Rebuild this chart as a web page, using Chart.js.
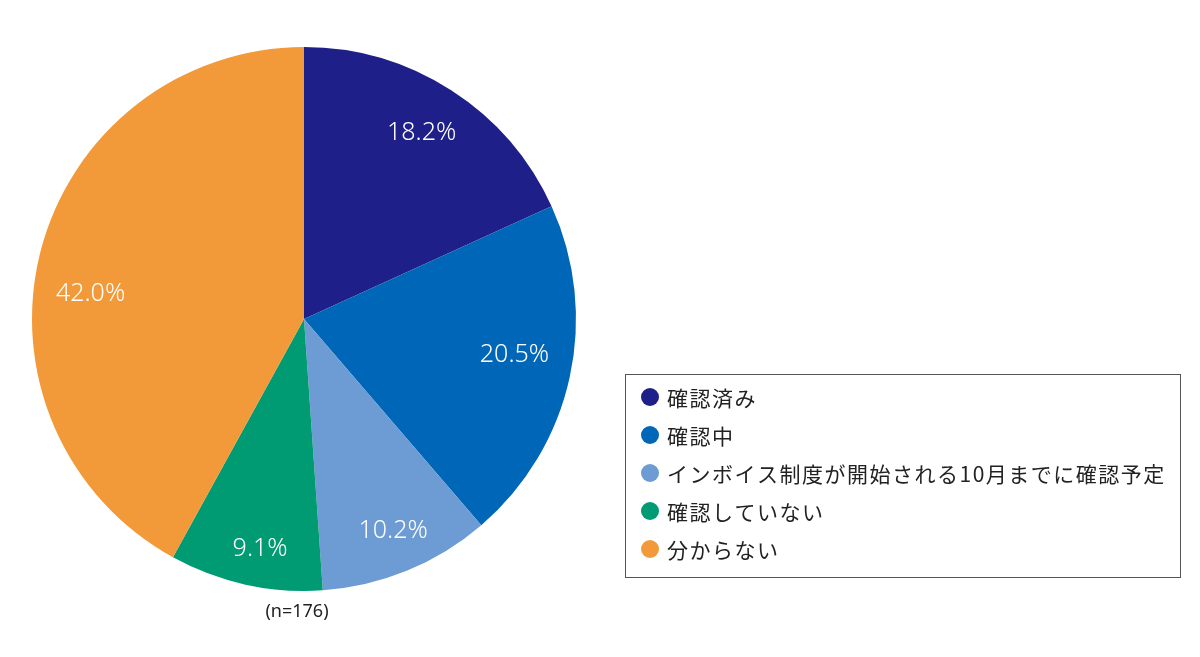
<html lang="ja">
<head>
    <meta charset="UTF-8"/>
    <title>インボイス確認状況</title>
    <script src="https://cdn.jsdelivr.net/npm/chart.js@4.4.0/dist/chart.umd.min.js"></script>
    <style>
        html, body { margin: 0; padding: 0; background: #ffffff; }
        #wrap { width: 1200px; height: 657px; position: relative; }
    </style>
</head>
<body>
<div id="wrap">
    <canvas id="myChart" width="1200" height="657"></canvas>
</div>
<script>
    const labels = ['確認済み', '確認中', 'インボイス制度が開始される10月までに確認予定', '確認していない', '分からない'];
    const shares = [18.2, 20.5, 10.2, 9.1, 42.0];
    const colors = ['#1e1f88', '#0066b8', '#6d9bd3', '#009a73', '#f29a39'];
    const sampleNote = '(n=176)';

    // label placement per slice: fraction of radius, and a small turn (degrees) off the mid angle
    const labelRadius = [0.81, 0.785, 0.845, 0.86, 0.79];
    const labelTurn = [-0.5, -2.7, -0.5, -1.6, -7.7];

    // percentage labels inside each slice
    const sliceLabels = {
        id: 'sliceLabels',
        afterDatasetsDraw(chart) {
            const ctx = chart.ctx;
            const meta = chart.getDatasetMeta(0);
            ctx.save();
            ctx.fillStyle = '#ffffff';
            ctx.font = '300 25px "Noto Sans", "Noto Sans CJK JP", sans-serif';
            ctx.textAlign = 'center';
            ctx.textBaseline = 'middle';
            meta.data.forEach((arc, i) => {
                const mid = (arc.startAngle + arc.endAngle) / 2 + labelTurn[i] * Math.PI / 180;
                const r = arc.outerRadius * labelRadius[i];
                const x = arc.x + Math.cos(mid) * r;
                const y = arc.y + Math.sin(mid) * r;
                ctx.fillText(shares[i].toFixed(1) + '%', x, y);
            });
            // sample size under the pie
            ctx.fillStyle = '#222222';
            ctx.font = '18px "Noto Sans", sans-serif';
            const a = meta.data[0];
            ctx.fillText(sampleNote, a.x - 7, a.y + a.outerRadius + 21);
            ctx.restore();
        }
    };

    // boxed legend on the right
    const boxLegend = {
        id: 'boxLegend',
        afterDraw(chart) {
            const ctx = chart.ctx;
            const left = 625, top = 374, w = 555, h = 203;
            ctx.save();
            ctx.strokeStyle = '#555555';
            ctx.lineWidth = 1;
            ctx.strokeRect(left + 0.5, top + 0.5, w, h);
            ctx.font = '21px "Noto Sans CJK JP", sans-serif';
            ctx.letterSpacing = '1.5px';
            ctx.textBaseline = 'middle';
            ctx.textAlign = 'left';
            labels.forEach((lab, i) => {
                const y = top + 23 + i * 38;
                ctx.beginPath();
                ctx.arc(left + 25, y, 9, 0, Math.PI * 2);
                ctx.fillStyle = colors[i];
                ctx.fill();
                ctx.fillStyle = '#222222';
                ctx.fillText(lab, left + 42, y + 1);
            });
            ctx.restore();
        }
    };

    new Chart(document.getElementById('myChart').getContext('2d'), {
        type: 'pie',
        data: {
            labels: labels,
            datasets: [{
                data: shares,
                backgroundColor: colors,
                borderWidth: 0
            }]
        },
        options: {
            responsive: false,
            animation: false,
            layout: {
                padding: { left: 32, right: 624, top: 47, bottom: 66 }
            },
            plugins: {
                legend: { display: false },
                tooltip: { enabled: false }
            }
        },
        plugins: [sliceLabels, boxLegend]
    });
</script>
</body>
</html>
